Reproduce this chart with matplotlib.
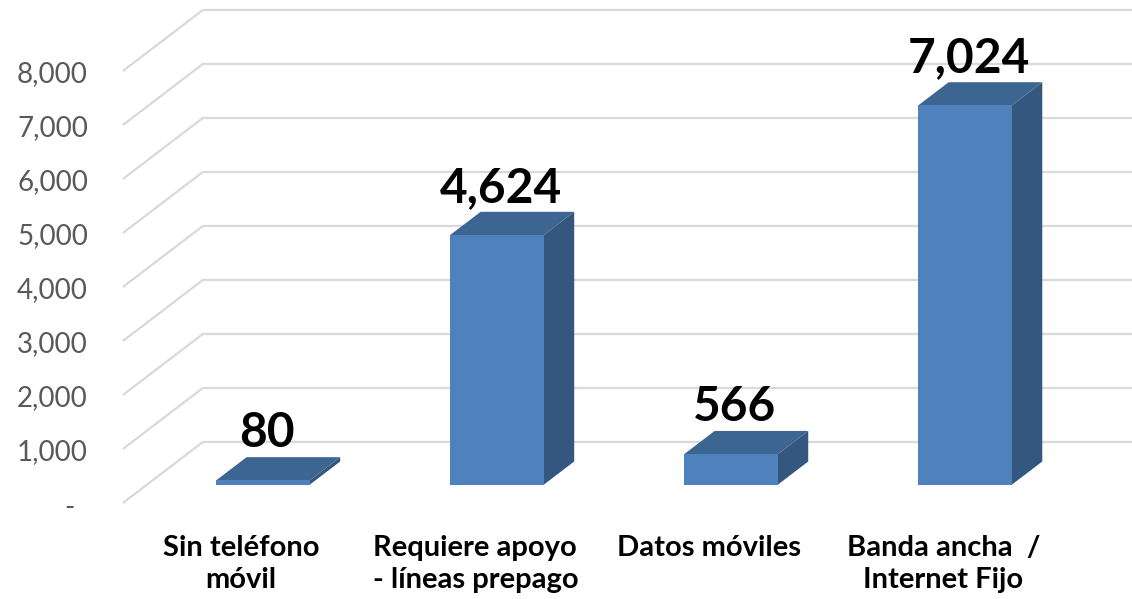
import numpy as np
import matplotlib.pyplot as plt
from matplotlib.patches import Polygon

categories = ["Sin teléfono\nmóvil", "Requiere apoyo\n- líneas prepago",
              "Datos móviles", "Banda ancha  /\nInternet Fijo"]
values = [80, 4624, 566, 7024]
yticks = [0, 1000, 2000, 3000, 4000, 5000, 6000, 7000, 8000]

# 3d look: depth offset of the back wall in data units
DX = 0.342
DY = 1130
D0, D1 = 0.30, 0.68  # bar depth span
W = 0.40

front_c = "#4F81BD"
top_c = "#3D6592"
side_c = "#34577F"
grid_c = "#D9D9D9"


def proj(x, v, d):
    return (x + d * DX, v + d * DY)


fig = plt.figure(figsize=(11.32, 5.99), dpi=100)
ax = fig.add_axes([0, 0, 1, 1])
ax.set_xlim(-1.021, 3.816)
ax.set_ylim(-1778, 9315)
ax.axis('off')

wall_x = -0.496
for t in yticks:
    p0 = proj(wall_x, t, 0)
    p1 = proj(wall_x, t, 1)
    ax.plot([p0[0], p1[0], 5], [p0[1], p1[1], p1[1]], color=grid_c, lw=1.6,
            zorder=1, solid_capstyle='butt')
    if t == 0:
        ax.text(-0.726, t - 90, "-", ha='center', va='center', fontsize=20,
                family='Lato', color='#595959')
    else:
        ax.text(-0.645, t - 60, "{:,}".format(t), ha='right', va='center',
                fontsize=20, family='Lato', color='#595959')

for i, v in enumerate(values):
    l, r = i - W / 2, i + W / 2
    front = [proj(l, 0, D0), proj(r, 0, D0), proj(r, v, D0), proj(l, v, D0)]
    top = [proj(l, v, D0), proj(r, v, D0), proj(r, v, D1), proj(l, v, D1)]
    side = [proj(r, 0, D0), proj(r, 0, D1), proj(r, v, D1), proj(r, v, D0)]
    ax.add_patch(Polygon(side, closed=True, fc=side_c, ec='none', zorder=3))
    ax.add_patch(Polygon(top, closed=True, fc=top_c, ec='none', zorder=3))
    ax.add_patch(Polygon(front, closed=True, fc=front_c, ec='none', zorder=4))
    tx, ty = proj(i, v, D1)
    ax.text(i + 0.35 * DX, ty + 40, "{:,}".format(v), ha='center', va='bottom',
            fontsize=34.5, fontweight='bold', family='Lato', color='black',
            zorder=5)
    ax.text(i + 0.01, -590, categories[i], ha='center', va='top', fontsize=21,
            fontweight='bold', family='Lato', color='black',
            linespacing=1.3)

fig.savefig("out.png", dpi=100)
